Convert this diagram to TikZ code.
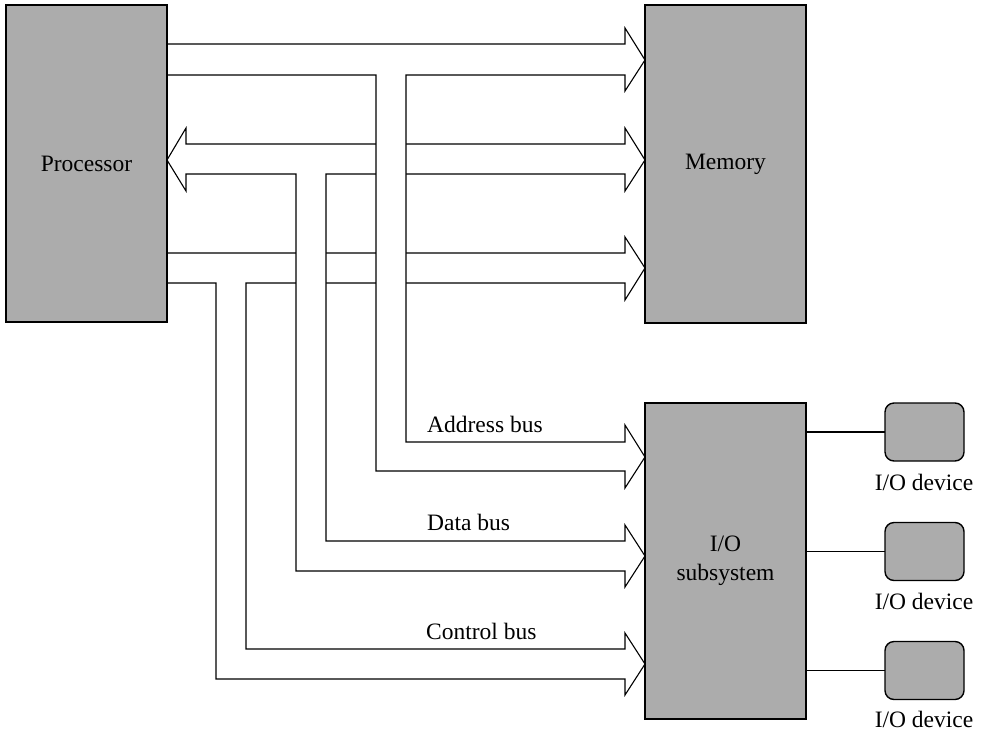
\documentclass[tikz,border=0pt]{standalone}
\usepackage{fontspec}
\setmainfont{Liberation Serif}
\definecolor{boxgray}{RGB}{172,172,172}
\begin{document}
\begin{tikzpicture}[x=1pt,y=-1pt,
  unitbox/.style={draw=black,line width=2pt,fill=boxgray,inner sep=0pt,outer sep=0pt,font=\fontsize{23.5}{29}\selectfont,align=center},
  devbox/.style={draw=black,line width=1.4pt,fill=boxgray,rounded corners=9pt,minimum width=79pt,minimum height=58pt,inner sep=0pt,outer sep=0pt},
  bus/.style={draw=black,line width=1.1pt,fill=white,line join=miter},
  lbl/.style={font=\fontsize{23.5}{29}\selectfont,inner sep=0pt},
  link/.style={draw=black,line width=1.1pt}]
\useasboundingbox (0,0) rectangle (984,734);
% control bus
\path[bus] (167,253) -- (625,253) -- (625,237) -- (645,268) -- (625,300) -- (625,283)
  -- (246,283) -- (246,649) -- (625,649) -- (625,633) -- (645,664) -- (625,695) -- (625,679)
  -- (216,679) -- (216,283) -- (167,283);
% data bus
\path[bus] (167,160) -- (186,128) -- (186,144) -- (625,144) -- (625,128) -- (645,160) -- (625,191) -- (625,174)
  -- (326,174) -- (326,541) -- (625,541) -- (625,525) -- (645,556) -- (625,587) -- (625,571)
  -- (296,571) -- (296,174) -- (186,174) -- (186,191) -- cycle;
% address bus
\path[bus] (167,44) -- (625,44) -- (625,28) -- (645,60) -- (625,91) -- (625,75)
  -- (406,75) -- (406,442) -- (625,442) -- (625,425) -- (645,457) -- (625,488) -- (625,471)
  -- (376,471) -- (376,75) -- (167,75);
% units
\node[unitbox,minimum width=161pt,minimum height=317pt] (proc) at (86.5,163.5) {Processor};
\node[unitbox,minimum width=161pt,minimum height=318pt] (mem) at (725.5,164) {Memory};
\node[unitbox,minimum width=161pt,minimum height=316pt] (io) at (725.5,561) {I/O\\subsystem};
% devices
\node[devbox] (d1) at (924.5,432) {};
\node[devbox] (d2) at (924.5,551.5) {};
\node[devbox] (d3) at (924.5,670.5) {};
\draw[link] (io.east |- d1.west) -- (d1.west);
\draw[link] (io.east |- d2.west) -- (d2.west);
\draw[link] (io.east |- d3.west) -- (d3.west);
\node[lbl,anchor=base] (l1) at (924,490) {I/O device};
\node[lbl,anchor=base] (l2) at (924,609) {I/O device};
\node[lbl,anchor=base] (l3) at (924,727) {I/O device};
% bus labels
\node[lbl,anchor=base west] (ab) at (427,432) {Address bus};
\node[lbl,anchor=base west] (db) at (427,530) {Data bus};
\node[lbl,anchor=base west] (cb) at (426,639) {Control bus};
\end{tikzpicture}
\end{document}
